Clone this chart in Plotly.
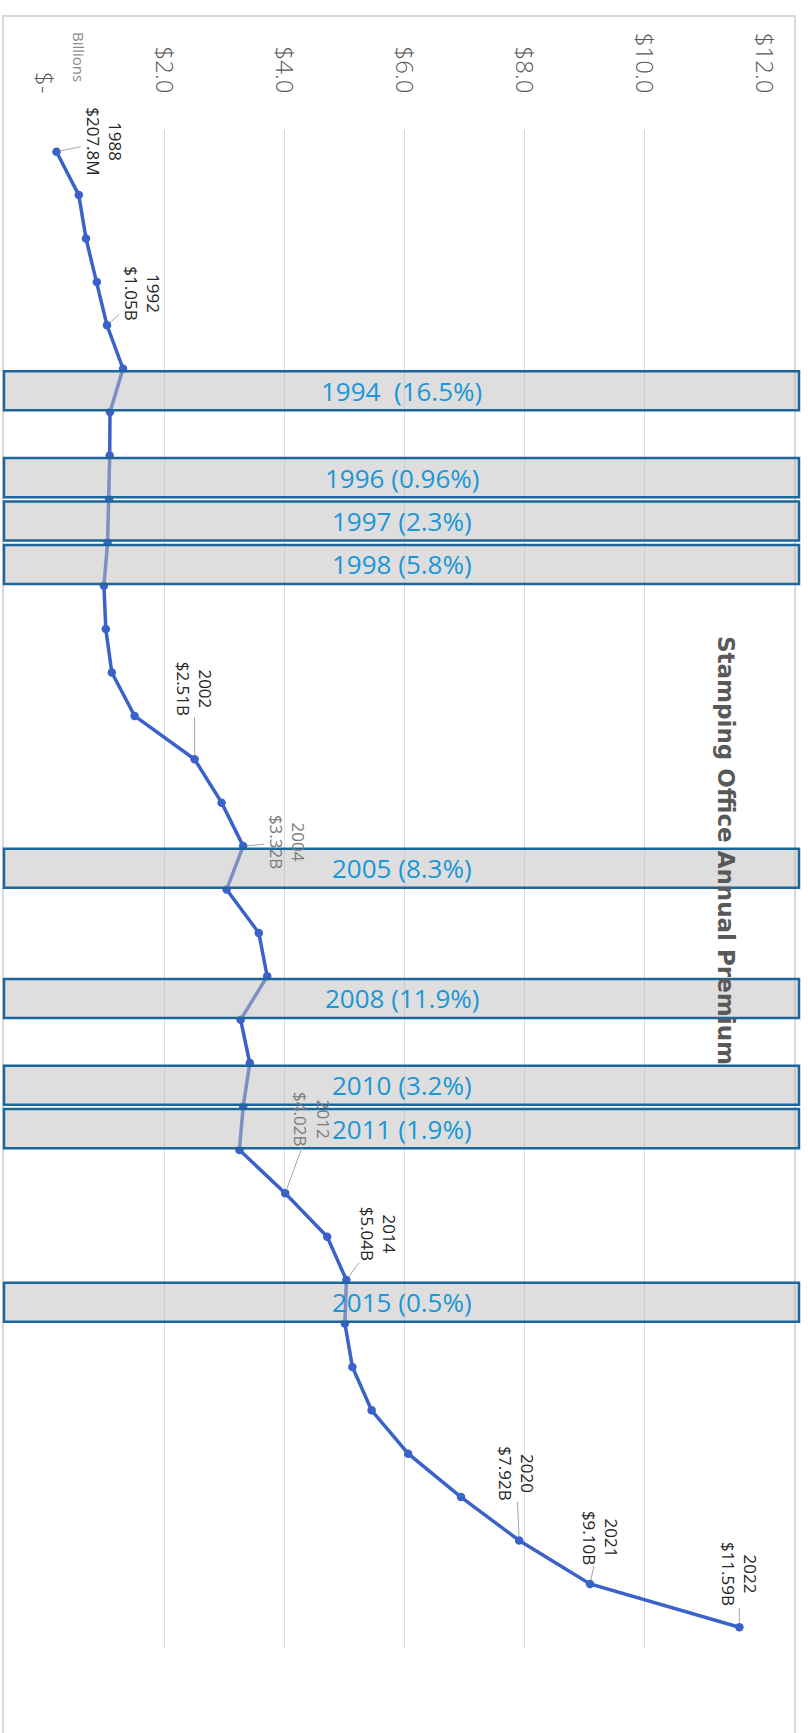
import plotly.graph_objects as go

# Annual premium collected by the Stamping Office, in billions of dollars
years = list(range(1988, 2023))
premium_bn = [0.2078, 0.58, 0.70, 0.88, 1.05, 1.317, 1.10, 1.095, 1.0845, 1.06,
              0.999, 1.03, 1.13, 1.51, 2.51, 2.96, 3.32, 3.044, 3.58, 3.72,
              3.277, 3.43, 3.32, 3.257, 4.02, 4.72, 5.04, 5.015, 5.14, 5.46,
              6.07, 6.95, 7.92, 9.10, 11.59]

# Years that get a value call-out
callout_years = [1988, 1992, 2002, 2004, 2012, 2014, 2020, 2021, 2022]
# Pixel offset of each call-out from its point (x right, y down)
callout_offsets = [(48, -10), (36, -32), (0, -71), (45, -4), (27, -74),
                   (33, -46), (-3, -67), (10, -46), (0, -53)]
callout_grey = [2004, 2012]

# Years in which the premium fell, with the size of the fall
decline_years = [1994, 1996, 1997, 1998, 2005, 2008, 2010, 2011, 2015]
decline_text = ["1994  (16.5%)", "1996 (0.96%)", "1997 (2.3%)", "1998 (5.8%)",
                "2005 (8.3%)", "2008 (11.9%)", "2010 (3.2%)", "2011 (1.9%)",
                "2015 (0.5%)"]

tick_vals = [0, 2, 4, 6, 8, 10, 12]
tick_text = ["$-", "$2.0", "$4.0", "$6.0", "$8.0", "$10.0", "$12.0"]

W, H = 808, 1733
ML, MR, MT, MB = 44, 44, 130, 84
PW, PH = W - ML - MR, H - MT - MB


def px_x(p):
    return (p - ML) / PW


def px_y(p):
    return (H - MB - p) / PH


LINE_BLUE = "#3A62C9"
FONT = "Open Sans"

fig = go.Figure()
fig.add_trace(go.Scatter(
    x=premium_bn, y=years, mode="lines+markers",
    line=dict(color=LINE_BLUE, width=3.5),
    marker=dict(color=LINE_BLUE, size=8.5),
    hoverinfo="skip", showlegend=False,
))

annotations = []
value_of = dict(zip(years, premium_bn))
for yr, (ox, oy) in zip(callout_years, callout_offsets):
    v = value_of[yr]
    amount = f"${v * 1000:.1f}M" if v < 1 else f"${v:.2f}B"
    annotations.append(dict(
        x=v, y=yr, xref="x", yref="y",
        text=f"{yr}<br>{amount}", textangle=90,
        showarrow=True, arrowhead=0, arrowwidth=1, arrowcolor="#a6a6a6",
        ax=ox, ay=oy, standoff=4,
        font=dict(family=FONT, size=17,
                  color="#7a7a7a" if yr in callout_grey else "#262626"),
    ))

shapes = []
for yr, label in zip(decline_years, decline_text):
    shapes.append(dict(
        type="rect", xref="paper", yref="y",
        x0=px_x(4), x1=px_x(799), y0=yr - 0.94, y1=yr - 0.04,
        fillcolor="rgba(190,190,190,0.5)",
        line=dict(color="#1D6699", width=2.5), layer="above",
    ))
    annotations.append(dict(
        x=(px_x(4) + px_x(799)) / 2, y=yr - 0.49, xref="paper", yref="y",
        text=label, showarrow=False, xanchor="center", yanchor="middle",
        font=dict(family=FONT, size=26, color="#1B96D6"),
    ))

# outer frame of the chart area
shapes.append(dict(
    type="rect", xref="paper", yref="paper",
    x0=px_x(3), x1=px_x(795), y0=px_y(1745), y1=px_y(16),
    line=dict(color="#d9d9d9", width=2), fillcolor="rgba(0,0,0,0)", layer="below",
))

annotations.append(dict(
    x=px_x(79), y=px_y(57), xref="paper", yref="paper",
    xanchor="center", yanchor="middle",
    text="Billions", textangle=90, showarrow=False,
    font=dict(family=FONT, size=15, color="#8c8c8c"),
))
annotations.append(dict(
    x=px_x(726), y=px_y(850), xref="paper", yref="paper",
    xanchor="center", yanchor="middle",
    text="<b>Stamping Office Annual Premium</b>", textangle=90, showarrow=False,
    font=dict(family="DejaVu Sans", size=23, color="#595959"),
))

fig.update_layout(
    width=W, height=H,
    margin=dict(l=ML, r=MR, t=MT, b=MB),
    paper_bgcolor="white", plot_bgcolor="white",
    xaxis=dict(
        range=[0, 12], side="top", tickvals=tick_vals, ticktext=tick_text,
        tickangle=90, ticks="", ticklabelstandoff=32,
        showgrid=True, gridcolor="#d9d9d9", gridwidth=1,
        zeroline=False, showline=False,
        tickfont=dict(family=FONT, size=24, color="#595959", weight=300),
    ),
    yaxis=dict(
        range=[2022.5, 1987.5], showticklabels=False, showgrid=False,
        zeroline=False, showline=False, ticks="",
    ),
    shapes=shapes, annotations=annotations,
)

fig.write_html("out.html")
